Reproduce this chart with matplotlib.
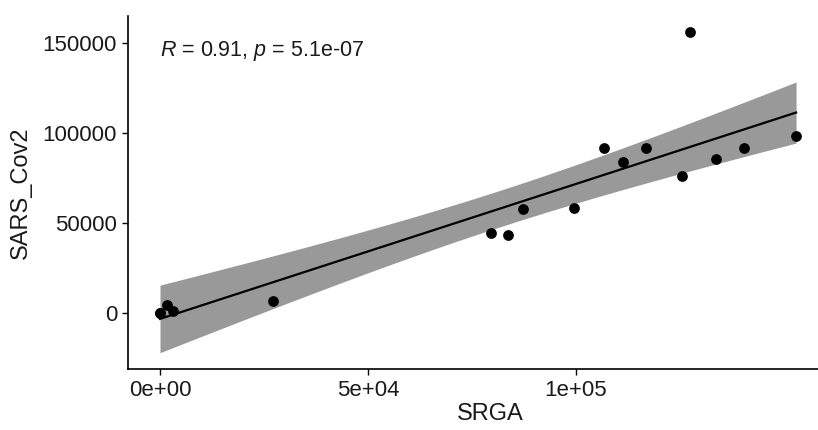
import numpy as np
import matplotlib
matplotlib.use("Agg")
import matplotlib.pyplot as plt

plt.rcParams['font.family'] = ['Liberation Sans', 'DejaVu Sans']
plt.rcParams['mathtext.fontset'] = 'custom'
plt.rcParams['mathtext.rm'] = 'Liberation Sans'
plt.rcParams['mathtext.it'] = 'Liberation Sans:italic'

srga = [0, 0, 1600, 3100, 27200, 79500, 83700, 87300, 99600, 106700,
        111400, 116900, 125600, 127400, 133700, 140300, 152900]
sars_cov2 = [0, 0, 4400, 1100, 6700, 44400, 43300, 57900, 58200, 91800,
             84100, 91800, 75900, 156100, 85700, 91800, 98500]
xticks = [0, 50000, 100000]
xticklabels = ['0e+00', '5e+04', '1e+05']
yticks = [0, 50000, 100000, 150000]
label_text = r'$\mathit{R}$ = 0.91, $\mathit{p}$ = 5.1e-07'

x = np.array(srga, dtype=float)
y = np.array(sars_cov2, dtype=float)
n = len(x)

# linear fit + 95% confidence band
b1, b0 = np.polyfit(x, y, 1)
xs = np.linspace(x.min(), x.max(), 200)
yhat = b0 + b1 * xs
resid = y - (b0 + b1 * x)
s = np.sqrt(np.sum(resid ** 2) / (n - 2))
se = s * np.sqrt(1 / n + (xs - x.mean()) ** 2 / np.sum((x - x.mean()) ** 2))
tq = 2.131  # t(0.975, df=15)
lo, hi = yhat - tq * se, yhat + tq * se

# ggplot-style 5% expansion
xr = x.max() - x.min()
xlim = (x.min() - 0.05 * xr, x.max() + 0.05 * xr)
ymin, ymax = min(lo.min(), y.min()), max(hi.max(), y.max())
yr = ymax - ymin
ylim = (ymin - 0.05 * yr, ymax + 0.05 * yr)

W, H = 818, 430
fig = plt.figure(figsize=(W / 100, H / 100), dpi=100)
px_x = 41.6 / 1e4
px_y = 18 / 1e4
aw = (xlim[1] - xlim[0]) * px_x
ah = (ylim[1] - ylim[0]) * px_y
left = 160 + xlim[0] * px_x
bottom_from_top = 313 - ylim[0] * px_y
ax = fig.add_axes([left / W, (H - bottom_from_top) / H, aw / W, ah / H])

ax.fill_between(xs, lo, hi, color='#999999', lw=0, zorder=1)
ax.plot(xs, yhat, color='black', lw=1.6, zorder=2)
ax.scatter(x, y, s=60, color='black', zorder=3, lw=0)

ax.set_xlim(xlim)
ax.set_ylim(ylim)
ax.set_xticks(xticks)
ax.set_xticklabels(xticklabels)
ax.set_yticks(yticks)
ax.tick_params(labelsize=16, length=4, width=1, color='black', labelcolor='#1a1a1a', pad=4)
for side in ['top', 'right']:
    ax.spines[side].set_visible(False)
for side in ['left', 'bottom']:
    ax.spines[side].set_linewidth(1.2)

ax.set_xlabel('SRGA', fontsize=17, color='#1a1a1a')
ax.xaxis.set_label_coords((490 - left) / aw, -(403 - bottom_from_top) / ah)
ax.set_ylabel('SARS_Cov2', fontsize=17, color='#1a1a1a', labelpad=8)
ax.text(0, 145500, label_text, fontsize=15.5, va='center', ha='left', color='#1a1a1a')

fig.savefig('out.png', dpi=100)
